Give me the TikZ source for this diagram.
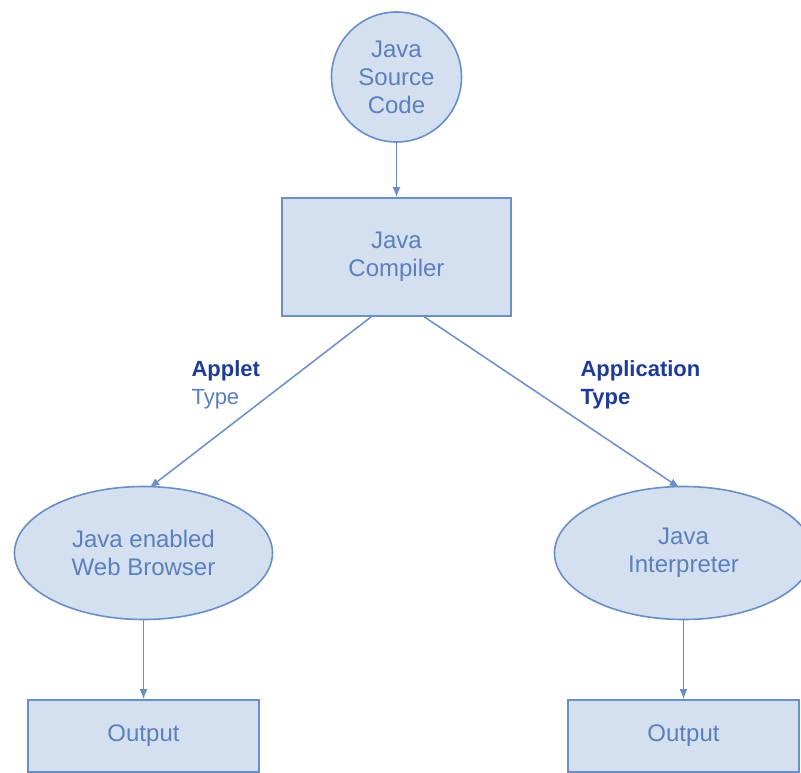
\documentclass[tikz,border=0pt]{standalone}
\usepackage{fontspec}
\setmainfont{Liberation Sans}
\usetikzlibrary{shapes.geometric,arrows.meta,calc}
\definecolor{edgec}{HTML}{6A8FC6}
\definecolor{fillc}{HTML}{D4E0EF}
\definecolor{txtc}{HTML}{5B80BD}
\definecolor{labc}{HTML}{1E3C96}
\begin{document}
\begin{tikzpicture}[x=1pt,y=-1pt,
  every node/.style={font=\fontsize{24}{28}\selectfont, text=txtc, align=center},
  shp/.style={draw=edgec, fill=fillc, line width=1.6pt, inner sep=0pt},
  circ/.style={shp, circle, minimum size=130pt},
  boxc/.style={shp, rectangle},
  ell/.style={shp, ellipse, minimum width=258pt, minimum height=133pt},
  arr/.style={draw=edgec, line width=1.5pt, -{Latex[length=10pt,width=8pt]}},
  lab/.style={text=labc, anchor=north west, align=left, font=\fontsize{22}{28}\selectfont}
]
\useasboundingbox (0,0) rectangle (801,773);
\clip (0,0) rectangle (801,773);
\fill[white] (0,0) rectangle (801,773);

\node[circ] (src) at (396.5,77) {Java\\Source\\Code};
\node[boxc, minimum width=229pt, minimum height=118pt] (comp) at (396.5,257) {Java\\Compiler};
\node[ell] (br) at (143.5,553) {Java enabled\\Web Browser};
\node[ell] (in) at (683.5,553) {Java\\Interpreter};
\node[boxc, minimum width=231pt, minimum height=72pt] (o1) at (143.5,736) {Output};
\node[boxc, minimum width=231pt, minimum height=72pt] (o2) at (683.5,736) {Output};

\node[lab] (l1) at (188,357) {\textbf{Applet}\\{\color{txtc}Type}};
\node[lab] (l2) at (577,357) {\textbf{Application}\\\textbf{Type}};

\coordinate (c1) at ($(comp.south west)+(90,0)$);
\coordinate (c2) at ($(comp.south west)+(143,0)$);
\coordinate (e1) at ($(br.north)+(6,2)$);
\coordinate (e2) at ($(in.north)+(-4,2)$);

\draw[arr] (src.south) -- (comp.north);
\draw[arr] (c1) -- (e1);
\draw[arr] (c2) -- (e2);
\draw[arr] (br.south) -- (o1.north);
\draw[arr] (in.south) -- (o2.north);
\end{tikzpicture}
\end{document}
